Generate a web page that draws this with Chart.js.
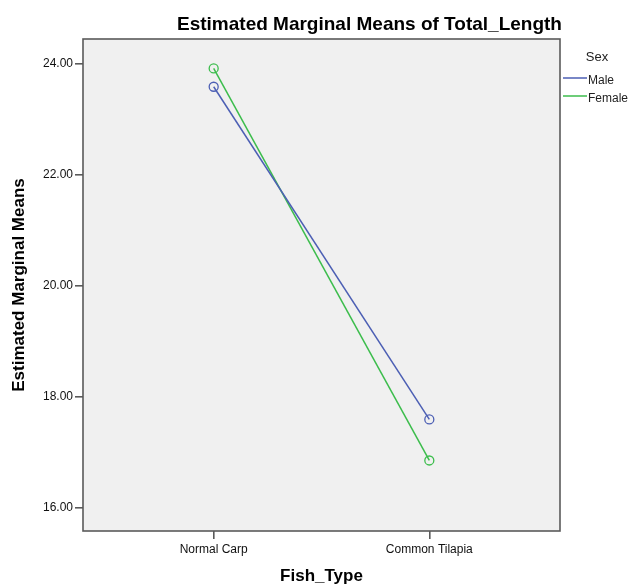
<!DOCTYPE html>
<html>
<head>
<meta charset="utf-8">
<title>Estimated Marginal Means of Total_Length</title>
<script src="https://cdn.jsdelivr.net/npm/chart.js@4.4.1/dist/chart.umd.min.js"></script>
<style>
    html, body { margin: 0; padding: 0; background: #fff; }
    #wrap { width: 632px; height: 585px; position: relative; }
</style>
</head>
<body>
<div id="wrap"><canvas id="emmChart"></canvas></div>
<script>
// data
const fishTypes = ['Normal Carp', 'Common Tilapia'];
const maleMeans = [23.58, 17.59];
const femaleMeans = [23.91, 16.85];
const yTicks = [16, 18, 20, 22, 24];
const sexLabels = ['Male', 'Female'];

const FONT = "'Liberation Sans', Arial, sans-serif";
const colors = { male: '#4c5fb4', female: '#3cbd4c' };

const toPoints = arr => arr.map((v, i) => ({ x: i, y: v }));

// plot frame, title and the "Sex" legend are drawn by hand, SPSS style
const frame = {
    id: 'frame',
    beforeDatasetsDraw(chart) {
        const { ctx, chartArea: a } = chart;
        ctx.save();
        ctx.fillStyle = '#f0f0f0';
        ctx.fillRect(a.left, a.top, a.right - a.left, a.bottom - a.top);
        ctx.restore();
    },
    afterDraw(chart) {
        const { ctx, chartArea: a } = chart;
        ctx.save();
        ctx.strokeStyle = '#5a5a5a';
        ctx.lineWidth = 1.6;
        ctx.strokeRect(a.left, a.top, a.right - a.left, a.bottom - a.top);

        ctx.fillStyle = '#000';
        ctx.textAlign = 'left';
        ctx.textBaseline = 'alphabetic';
        ctx.font = 'bold 19px ' + FONT;
        ctx.fillText('Estimated Marginal Means of Total_Length', 177, 30);

        ctx.fillStyle = '#222';
        ctx.textAlign = 'center';
        ctx.font = '13px ' + FONT;
        ctx.fillText('Sex', 597, 61);

        ctx.textAlign = 'left';
        ctx.font = '12px ' + FONT;
        const legendRows = [[sexLabels[0], colors.male, 78], [sexLabels[1], colors.female, 96]];
        legendRows.forEach(([label, col, y]) => {
            ctx.strokeStyle = col;
            ctx.lineWidth = 1.5;
            ctx.beginPath();
            ctx.moveTo(563, y);
            ctx.lineTo(587, y);
            ctx.stroke();
            ctx.fillText(label, 588, y + 5.5);
        });
        ctx.restore();
    }
};

const ctx = document.getElementById('emmChart').getContext('2d');
new Chart(ctx, {
    type: 'line',
    data: {
        datasets: [{
            label: sexLabels[0],
            data: toPoints(maleMeans),
            borderColor: colors.male,
            backgroundColor: 'rgba(0,0,0,0)',
            borderWidth: 1.5,
            pointRadius: 4.5,
            pointBorderWidth: 1.3,
            pointBackgroundColor: 'rgba(0,0,0,0)',
            tension: 0
        }, {
            label: sexLabels[1],
            data: toPoints(femaleMeans),
            borderColor: colors.female,
            backgroundColor: 'rgba(0,0,0,0)',
            borderWidth: 1.5,
            pointRadius: 4.5,
            pointBorderWidth: 1.3,
            pointBackgroundColor: 'rgba(0,0,0,0)',
            tension: 0
        }]
    },
    options: {
        responsive: true,
        maintainAspectRatio: false,
        animation: false,
        layout: { padding: { top: 39, right: 72, bottom: 0, left: 0 } },
        plugins: {
            legend: { display: false },
            title: { display: false },
            tooltip: { enabled: false }
        },
        scales: {
            x: {
                type: 'linear',
                min: -0.606,
                max: 1.606,
                afterBuildTicks: scale => { scale.ticks = fishTypes.map((_, i) => ({ value: i })); },
                afterFit: scale => { scale.height = 54; },
                ticks: {
                    callback: v => fishTypes[v],
                    color: '#111',
                    font: { family: FONT, size: 12 },
                    padding: 3,
                    maxRotation: 0
                },
                grid: { drawOnChartArea: false, drawTicks: true, tickLength: 8, color: '#5a5a5a', lineWidth: 1.6 },
                border: { display: false },
                title: {
                    display: true,
                    text: 'Fish_Type',
                    color: '#000',
                    font: { family: FONT, size: 17, weight: 'bold', lineHeight: 1 },
                    padding: { top: 0, bottom: 0 }
                }
            },
            y: {
                min: 15.58,
                max: 24.44,
                afterBuildTicks: scale => { scale.ticks = yTicks.map(v => ({ value: v })); },
                afterFit: scale => { scale.width = 83; },
                ticks: {
                    callback: v => v.toFixed(2),
                    color: '#111',
                    font: { family: FONT, size: 12 },
                    padding: 2
                },
                grid: { drawOnChartArea: false, drawTicks: true, tickLength: 8, color: '#5a5a5a', lineWidth: 1.6 },
                border: { display: false },
                title: {
                    display: true,
                    text: 'Estimated Marginal Means',
                    color: '#000',
                    font: { family: FONT, size: 17, weight: 'bold', lineHeight: 1.2 },
                    padding: { top: 9, bottom: 0 }
                }
            }
        }
    },
    plugins: [frame]
});
</script>
</body>
</html>
